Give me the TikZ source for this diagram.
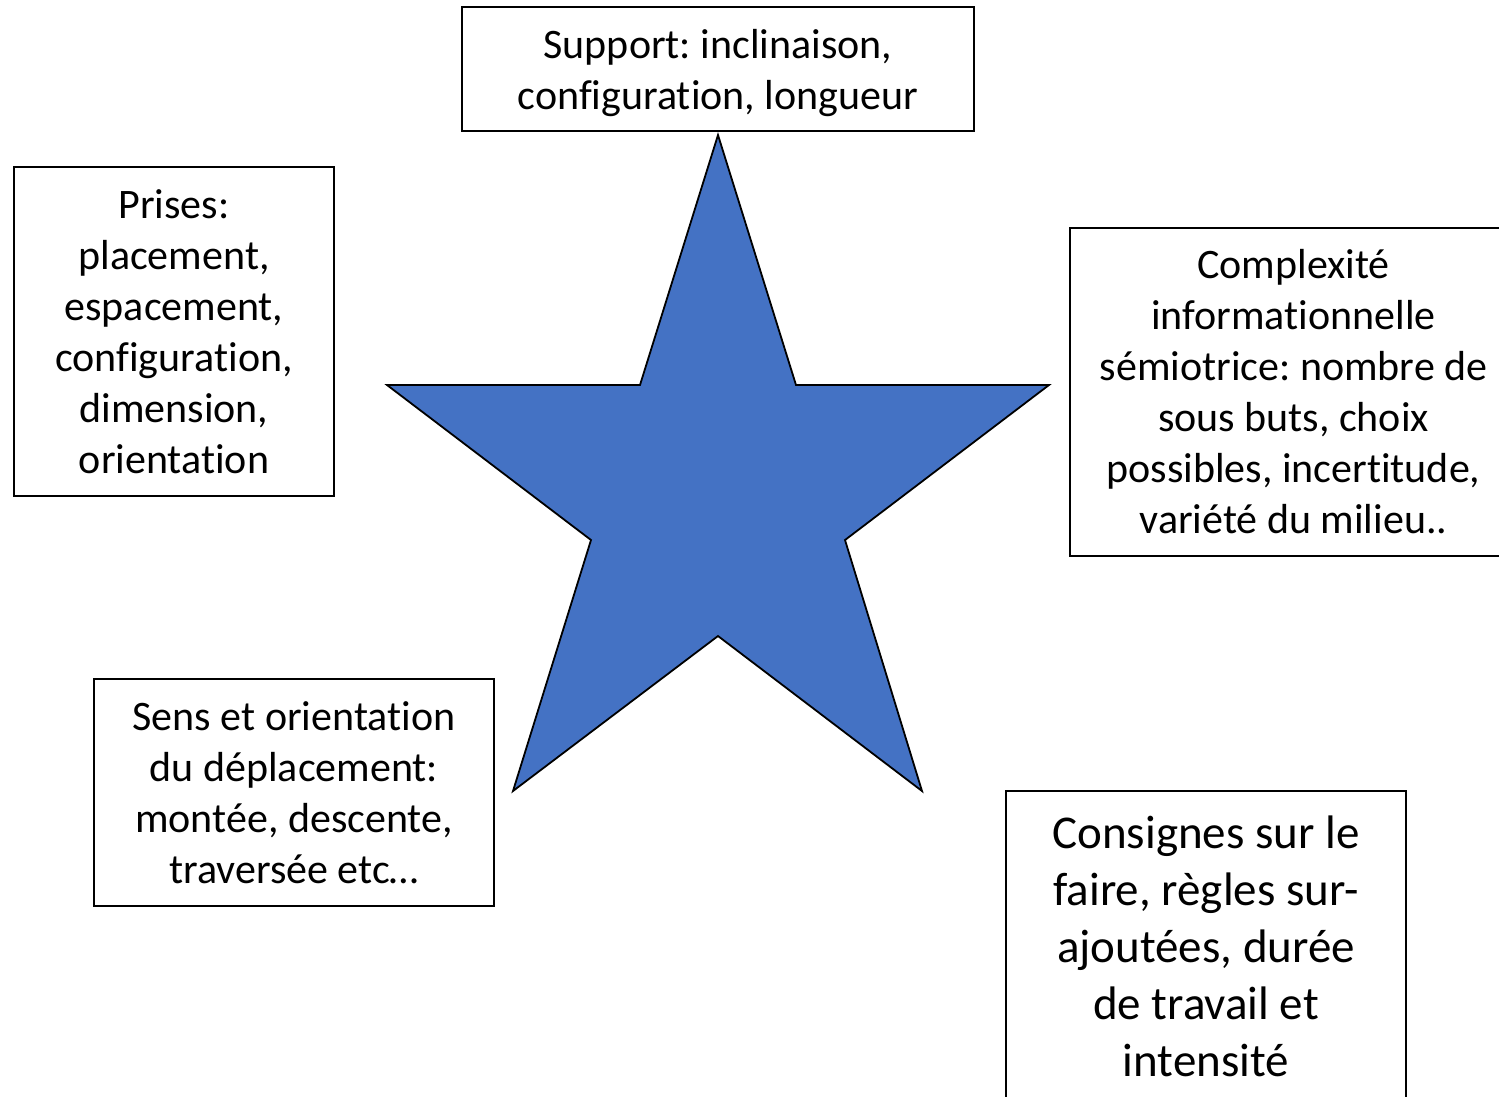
\documentclass[tikz,border=0pt]{standalone}
\usepackage{fontspec}
\setmainfont{Carlito}[Ligatures={NoCommon,NoRequired,NoContextual}]
\frenchspacing
\definecolor{starblue}{HTML}{4472C4}
\tikzset{
  txtbox/.style={draw=black, line width=1.5pt, fill=white, align=center, inner sep=0pt,
    font=\fontsize{42}{51}\selectfont},
  bigbox/.style={txtbox, font=\fontsize{47}{57}\selectfont},
  starshape/.style={fill=starblue, draw=black, line width=1.8pt, line join=miter}
}
\begin{document}
\begin{tikzpicture}[x=1pt,y=-1pt]
\useasboundingbox (0,0) rectangle (1499,1096);
\clip (0,0) rectangle (1499,1096);
\fill[white] (0,0) rectangle (1499,1096);
% star
\draw[starshape] (718,135) -- (796,385) -- (1049,385) -- (845,540) -- (922,791)
  -- (718,636) -- (513,791) -- (591,540) -- (387,385) -- (640,385) -- cycle;
% boxes
\node[txtbox, minimum width=512pt, minimum height=124pt, text depth=0pt] (support) at (718,69)
  {Support: inclinaison,\\configuration, longueur};
\node[txtbox, minimum width=320pt, minimum height=329pt] (prises) at (174,331.5)
  {Prises:\\placement,\\espacement,\\configuration,\\dimension,\\orientation};
\node[txtbox, minimum width=447pt, minimum height=328pt] (complex) at (1293.5,392)
  {Complexité\\informationnelle\\sémiotrice: nombre de\\sous buts, choix\\possibles, incertitude,\\variété du milieu..};
\node[txtbox, minimum width=400pt, minimum height=227pt] (sens) at (294,792.5)
  {Sens et orientation\\du déplacement:\\montée, descente,\\traversée etc…};
\node[bigbox, minimum width=400pt, minimum height=310pt] (consignes) at (1206,946)
  {Consignes sur le\\faire, règles sur-\\ajoutées, durée\\de travail et\\intensité};
\end{tikzpicture}
\end{document}
